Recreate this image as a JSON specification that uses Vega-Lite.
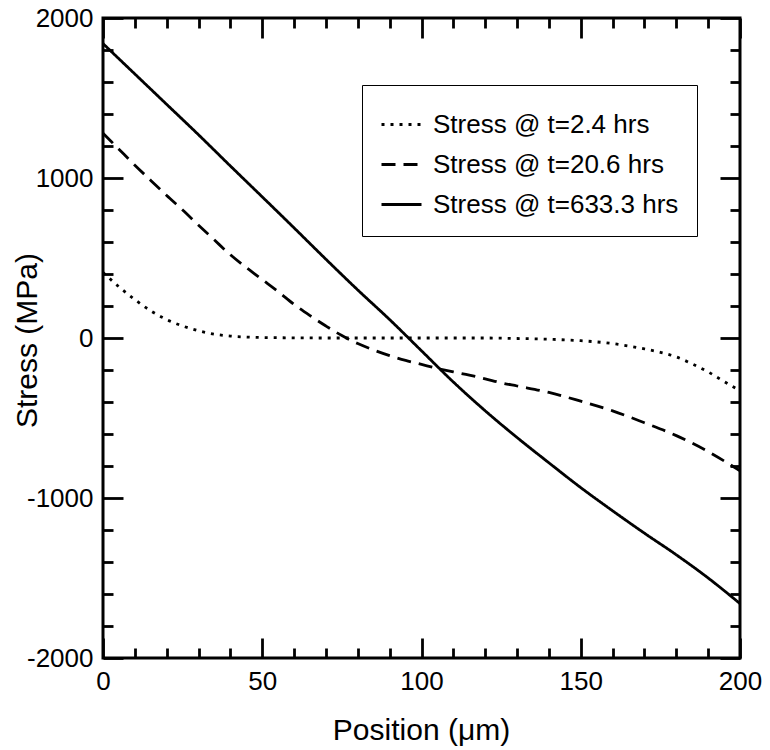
{
  "$schema": "https://vega.github.io/schema/vega-lite/v6.json",
  "width": 637,
  "height": 640,
  "autosize": {"type": "none"},
  "padding": {"left": 103, "top": 18, "right": 30, "bottom": 92},
  "background": "white",
  "config": {
    "view": {"stroke": "black", "strokeWidth": 3},
    "font": "Liberation Sans",
    "axis": {
      "labelFont": "Liberation Sans",
      "titleFont": "Liberation Sans",
      "labelColor": "black",
      "titleColor": "black",
      "tickColor": "black",
      "domainColor": "black",
      "grid": false,
      "labelFontSize": 26,
      "titleFontSize": 30,
      "titleFontWeight": "normal",
      "tickWidth": 2.8
    }
  },
  "data": {
    "values": [
      {"series": "Stress @ t=2.4 hrs", "position": 0, "stress": 410},
      {"series": "Stress @ t=2.4 hrs", "position": 5, "stress": 320},
      {"series": "Stress @ t=2.4 hrs", "position": 10, "stress": 240},
      {"series": "Stress @ t=2.4 hrs", "position": 15, "stress": 170},
      {"series": "Stress @ t=2.4 hrs", "position": 20, "stress": 115},
      {"series": "Stress @ t=2.4 hrs", "position": 25, "stress": 75},
      {"series": "Stress @ t=2.4 hrs", "position": 30, "stress": 45},
      {"series": "Stress @ t=2.4 hrs", "position": 35, "stress": 24},
      {"series": "Stress @ t=2.4 hrs", "position": 40, "stress": 12},
      {"series": "Stress @ t=2.4 hrs", "position": 45, "stress": 6},
      {"series": "Stress @ t=2.4 hrs", "position": 50, "stress": 3},
      {"series": "Stress @ t=2.4 hrs", "position": 60, "stress": 1},
      {"series": "Stress @ t=2.4 hrs", "position": 70, "stress": 0},
      {"series": "Stress @ t=2.4 hrs", "position": 80, "stress": 0},
      {"series": "Stress @ t=2.4 hrs", "position": 90, "stress": 0},
      {"series": "Stress @ t=2.4 hrs", "position": 100, "stress": 0},
      {"series": "Stress @ t=2.4 hrs", "position": 110, "stress": 0},
      {"series": "Stress @ t=2.4 hrs", "position": 120, "stress": 0},
      {"series": "Stress @ t=2.4 hrs", "position": 130, "stress": -3},
      {"series": "Stress @ t=2.4 hrs", "position": 140, "stress": -8},
      {"series": "Stress @ t=2.4 hrs", "position": 150, "stress": -17},
      {"series": "Stress @ t=2.4 hrs", "position": 160, "stress": -35},
      {"series": "Stress @ t=2.4 hrs", "position": 165, "stress": -50},
      {"series": "Stress @ t=2.4 hrs", "position": 170, "stress": -68},
      {"series": "Stress @ t=2.4 hrs", "position": 175, "stress": -90},
      {"series": "Stress @ t=2.4 hrs", "position": 180, "stress": -118},
      {"series": "Stress @ t=2.4 hrs", "position": 185, "stress": -162},
      {"series": "Stress @ t=2.4 hrs", "position": 190, "stress": -212},
      {"series": "Stress @ t=2.4 hrs", "position": 195, "stress": -272},
      {"series": "Stress @ t=2.4 hrs", "position": 200, "stress": -330},

      {"series": "Stress @ t=20.6 hrs", "position": 0, "stress": 1280},
      {"series": "Stress @ t=20.6 hrs", "position": 5, "stress": 1180},
      {"series": "Stress @ t=20.6 hrs", "position": 10, "stress": 1080},
      {"series": "Stress @ t=20.6 hrs", "position": 15, "stress": 985},
      {"series": "Stress @ t=20.6 hrs", "position": 20, "stress": 890},
      {"series": "Stress @ t=20.6 hrs", "position": 25, "stress": 800},
      {"series": "Stress @ t=20.6 hrs", "position": 30, "stress": 705},
      {"series": "Stress @ t=20.6 hrs", "position": 35, "stress": 612},
      {"series": "Stress @ t=20.6 hrs", "position": 40, "stress": 520},
      {"series": "Stress @ t=20.6 hrs", "position": 45, "stress": 440},
      {"series": "Stress @ t=20.6 hrs", "position": 50, "stress": 365},
      {"series": "Stress @ t=20.6 hrs", "position": 55, "stress": 290},
      {"series": "Stress @ t=20.6 hrs", "position": 60, "stress": 210},
      {"series": "Stress @ t=20.6 hrs", "position": 65, "stress": 140},
      {"series": "Stress @ t=20.6 hrs", "position": 70, "stress": 75},
      {"series": "Stress @ t=20.6 hrs", "position": 75, "stress": 15},
      {"series": "Stress @ t=20.6 hrs", "position": 80, "stress": -35},
      {"series": "Stress @ t=20.6 hrs", "position": 85, "stress": -75},
      {"series": "Stress @ t=20.6 hrs", "position": 90, "stress": -110},
      {"series": "Stress @ t=20.6 hrs", "position": 95, "stress": -140},
      {"series": "Stress @ t=20.6 hrs", "position": 100, "stress": -165},
      {"series": "Stress @ t=20.6 hrs", "position": 105, "stress": -190},
      {"series": "Stress @ t=20.6 hrs", "position": 110, "stress": -212},
      {"series": "Stress @ t=20.6 hrs", "position": 115, "stress": -232},
      {"series": "Stress @ t=20.6 hrs", "position": 120, "stress": -255},
      {"series": "Stress @ t=20.6 hrs", "position": 125, "stress": -280},
      {"series": "Stress @ t=20.6 hrs", "position": 130, "stress": -300},
      {"series": "Stress @ t=20.6 hrs", "position": 140, "stress": -340},
      {"series": "Stress @ t=20.6 hrs", "position": 150, "stress": -395},
      {"series": "Stress @ t=20.6 hrs", "position": 160, "stress": -455},
      {"series": "Stress @ t=20.6 hrs", "position": 170, "stress": -530},
      {"series": "Stress @ t=20.6 hrs", "position": 180, "stress": -610},
      {"series": "Stress @ t=20.6 hrs", "position": 190, "stress": -710},
      {"series": "Stress @ t=20.6 hrs", "position": 200, "stress": -830},

      {"series": "Stress @ t=633.3 hrs", "position": 0, "stress": 1840},
      {"series": "Stress @ t=633.3 hrs", "position": 10, "stress": 1650},
      {"series": "Stress @ t=633.3 hrs", "position": 20, "stress": 1460},
      {"series": "Stress @ t=633.3 hrs", "position": 30, "stress": 1270},
      {"series": "Stress @ t=633.3 hrs", "position": 40, "stress": 1075},
      {"series": "Stress @ t=633.3 hrs", "position": 50, "stress": 882},
      {"series": "Stress @ t=633.3 hrs", "position": 60, "stress": 688},
      {"series": "Stress @ t=633.3 hrs", "position": 70, "stress": 492},
      {"series": "Stress @ t=633.3 hrs", "position": 80, "stress": 300},
      {"series": "Stress @ t=633.3 hrs", "position": 90, "stress": 115},
      {"series": "Stress @ t=633.3 hrs", "position": 100, "stress": -80},
      {"series": "Stress @ t=633.3 hrs", "position": 110, "stress": -275},
      {"series": "Stress @ t=633.3 hrs", "position": 120, "stress": -455},
      {"series": "Stress @ t=633.3 hrs", "position": 130, "stress": -622},
      {"series": "Stress @ t=633.3 hrs", "position": 140, "stress": -780},
      {"series": "Stress @ t=633.3 hrs", "position": 150, "stress": -935},
      {"series": "Stress @ t=633.3 hrs", "position": 160, "stress": -1080},
      {"series": "Stress @ t=633.3 hrs", "position": 170, "stress": -1220},
      {"series": "Stress @ t=633.3 hrs", "position": 180, "stress": -1355},
      {"series": "Stress @ t=633.3 hrs", "position": 190, "stress": -1500},
      {"series": "Stress @ t=633.3 hrs", "position": 200, "stress": -1660}
    ]
  },
  "layer": [
    {
      "mark": {"type": "line", "color": "black", "strokeWidth": 2.8, "interpolate": "monotone"},
      "encoding": {
        "x": {
          "field": "position", "type": "quantitative",
          "scale": {"domain": [0, 200], "nice": false, "zero": false},
          "axis": {
            "orient": "bottom", "values": [0, 50, 100, 150, 200],
            "ticks": false, "domain": false, "labelPadding": 10,
            "labelExpr": "'' + datum.value",
            "title": "Position (μm)", "titleX": 318, "titleY": 72, "titleBaseline": "middle",
            "labelFlush": false
          }
        },
        "y": {
          "field": "stress", "type": "quantitative",
          "scale": {"domain": [-2000, 2000], "nice": false, "zero": false},
          "axis": {
            "orient": "left", "values": [-2000, -1000, 0, 1000, 2000],
            "ticks": false, "domain": false, "labelPadding": 10,
            "labelExpr": "'' + datum.value",
            "title": "Stress (MPa)", "titleX": -76, "titleY": 322, "titleAngle": -90,
            "titleAlign": "center", "titleBaseline": "middle",
            "labelFlush": false
          }
        },
        "strokeDash": {
          "field": "series", "type": "nominal",
          "scale": {
            "domain": ["Stress @ t=2.4 hrs", "Stress @ t=20.6 hrs", "Stress @ t=633.3 hrs"],
            "range": [[3, 6], [14, 8], [1, 0]]
          },
          "legend": {
            "orient": "none", "legendX": 259, "legendY": 67, "title": null,
            "symbolType": "stroke", "symbolStrokeColor": "black", "symbolStrokeWidth": 2.8,
            "symbolSize": 1600, "labelFontSize": 26, "labelFont": "Liberation Sans",
            "labelColor": "black", "strokeColor": "black", "fillColor": "white",
            "padding": 18, "rowPadding": 5, "labelOffset": 10, "labelLimit": 400
          }
        }
      }
    },
    {
      "mark": {"type": "point", "opacity": 0},
      "encoding": {
        "x": {
          "field": "position", "type": "quantitative",
          "axis": {
            "orient": "bottom",
            "values": [0, 10, 20, 30, 40, 50, 60, 70, 80, 90, 100, 110, 120, 130, 140, 150, 160, 170, 180, 190, 200],
            "labels": false, "domain": false, "title": null,
            "tickSize": {"condition": {"test": "datum.value % 50 === 0", "value": -20}, "value": -10}
          }
        },
        "y": {
          "field": "stress", "type": "quantitative",
          "axis": {
            "orient": "left",
            "values": [-2000, -1800, -1600, -1400, -1200, -1000, -800, -600, -400, -200, 0, 200, 400, 600, 800, 1000, 1200, 1400, 1600, 1800, 2000],
            "labels": false, "domain": false, "title": null,
            "tickSize": {"condition": {"test": "datum.value % 1000 === 0", "value": -20}, "value": -10}
          }
        }
      }
    },
    {
      "mark": {"type": "point", "opacity": 0},
      "encoding": {
        "x": {
          "field": "position", "type": "quantitative",
          "axis": {
            "orient": "top",
            "values": [0, 10, 20, 30, 40, 50, 60, 70, 80, 90, 100, 110, 120, 130, 140, 150, 160, 170, 180, 190, 200],
            "labels": false, "domain": false, "title": null,
            "tickSize": {"condition": {"test": "datum.value % 50 === 0", "value": -20}, "value": -10}
          }
        },
        "y": {
          "field": "stress", "type": "quantitative",
          "axis": {
            "orient": "right",
            "values": [-2000, -1800, -1600, -1400, -1200, -1000, -800, -600, -400, -200, 0, 200, 400, 600, 800, 1000, 1200, 1400, 1600, 1800, 2000],
            "labels": false, "domain": false, "title": null,
            "tickSize": {"condition": {"test": "datum.value % 1000 === 0", "value": -20}, "value": -10}
          }
        }
      }
    }
  ],
  "resolve": {"axis": {"x": "independent", "y": "independent"}}
}
